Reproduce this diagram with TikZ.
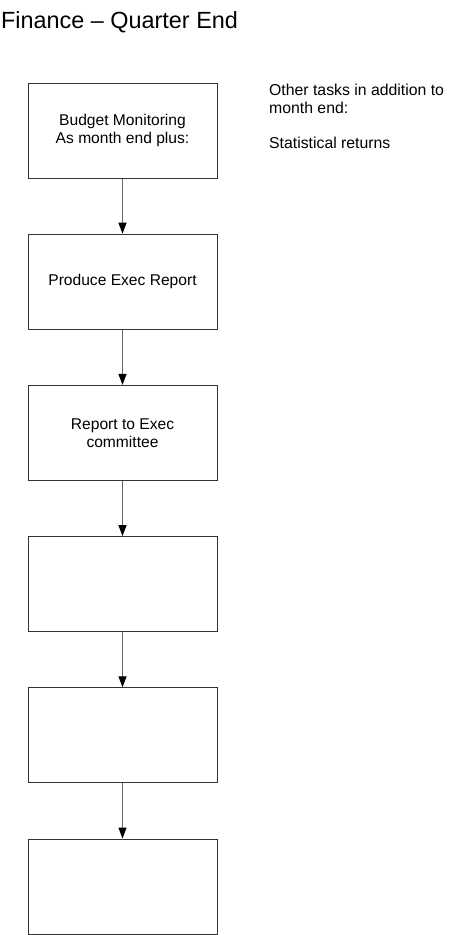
\documentclass[tikz,border=0pt]{standalone}
\usepackage{fontspec}
\setmainfont{Liberation Sans}
\usepackage{xcolor}
\usetikzlibrary{arrows.meta,positioning}
\definecolor{boxline}{HTML}{333333}
\definecolor{arrowline}{HTML}{666666}

\begin{document}
\begin{tikzpicture}[
    node distance=55.2bp,
    stepbox/.style={rectangle, draw=boxline, fill=white, line width=1bp, minimum width=189bp, minimum height=95bp, align=center, inner sep=4bp, font=\fontsize{15.6bp}{17.7bp}\selectfont},
    note/.style={align=left, inner sep=0pt, font=\fontsize{15.8bp}{17.7bp}\selectfont},
    arr/.style={-{Triangle[length=11bp, width=8bp, color=black]}, line width=1.2bp, draw=arrowline}
]
    \useasboundingbox (0,0) rectangle (452bp,-935bp);

    % Title
    \node (title) [anchor=base west, inner sep=0pt, font=\fontsize{23.4bp}{28bp}\selectfont] at (1bp,-28.3bp) {Finance -- Quarter End};

    % Steps
    \node (s1) [stepbox] at (122.5bp,-130.5bp) {Budget Monitoring\\As month end plus:};
    \node (s2) [stepbox, below=of s1] {Produce Exec Report};
    \node (s3) [stepbox, below=of s2] {Report to Exec\\committee};
    \node (s4) [stepbox, below=of s3] {};
    \node (s5) [stepbox, below=of s4] {};
    \node (s6) [stepbox, below=of s5] {};

    % Side note
    \node (other) [note, anchor=north west] at (269bp,-84bp) {Other tasks in addition to\\month end:\\[17.7bp]Statistical returns};

    % Connectors
    \draw [arr] (s1) -- (s2);
    \draw [arr] (s2) -- (s3);
    \draw [arr] (s3) -- (s4);
    \draw [arr] (s4) -- (s5);
    \draw [arr] (s5) -- (s6);
\end{tikzpicture}
\end{document}
